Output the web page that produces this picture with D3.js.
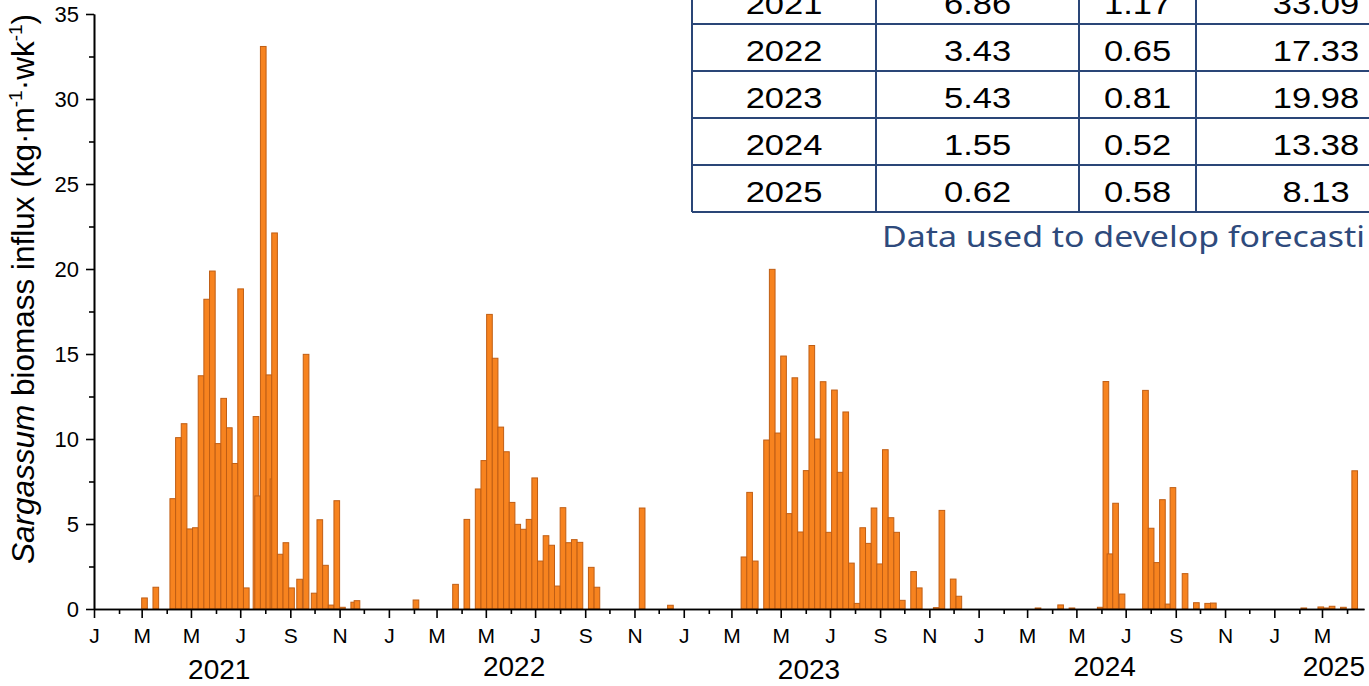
<!DOCTYPE html>
<html><head><meta charset="utf-8">
<script src="https://cdn.jsdelivr.net/npm/d3@7"></script>
<style>
body{margin:0;background:#fff;}
svg{display:block;}
</style></head><body>
<svg id="chart" width="1369" height="686"></svg>
<script>
// ---- DATA (weekly Sargassum biomass influx, kg·m-1·wk-1) ----
const dates2021 = ["2021-03-01","2021-03-15","2021-04-05","2021-04-12","2021-04-19","2021-04-26","2021-05-03","2021-05-10","2021-05-17","2021-05-24","2021-05-31","2021-06-07","2021-06-14","2021-06-21","2021-06-28","2021-07-05","2021-07-17","2021-07-19","2021-07-26","2021-08-02","2021-08-07","2021-08-09","2021-08-16","2021-08-23","2021-08-30","2021-09-09","2021-09-17","2021-09-27","2021-10-04","2021-10-11","2021-10-18","2021-10-25","2021-11-01","2021-11-15","2021-11-19"];
const values2021 = [0.65,1.28,6.49,10.08,10.9,4.71,4.78,13.72,18.22,19.88,9.73,12.39,10.66,8.56,18.83,1.24,11.32,6.65,33.09,13.77,7.65,22.12,3.22,3.9,1.24,1.75,14.98,0.93,5.25,2.57,0.23,6.37,0.1,0.4,0.49];

const dates2022 = ["2022-01-31","2022-03-21","2022-04-04","2022-04-18","2022-04-25","2022-05-02","2022-05-09","2022-05-16","2022-05-23","2022-05-30","2022-06-06","2022-06-13","2022-06-20","2022-06-27","2022-07-04","2022-07-11","2022-07-18","2022-07-25","2022-08-01","2022-08-08","2022-08-15","2022-08-22","2022-09-05","2022-09-12","2022-11-07","2022-12-12"];
const values2022 = [0.53,1.45,5.27,7.06,8.73,17.33,14.75,10.7,9.25,6.27,4.98,4.69,5.27,7.71,2.82,4.31,3.75,1.35,5.96,3.9,4.08,3.92,2.45,1.28,5.94,0.22];

const dates2023 = ["2023-03-13","2023-03-20","2023-03-27","2023-04-10","2023-04-17","2023-04-24","2023-05-01","2023-05-08","2023-05-15","2023-05-22","2023-05-29","2023-06-05","2023-06-12","2023-06-19","2023-06-26","2023-07-03","2023-07-10","2023-07-17","2023-07-24","2023-07-31","2023-08-07","2023-08-14","2023-08-21","2023-08-28","2023-09-04","2023-09-11","2023-09-18","2023-09-25","2023-10-09","2023-10-16","2023-11-06","2023-11-13","2023-11-27","2023-12-04"];
const values2023 = [3.06,6.86,2.82,9.94,19.98,10.35,14.88,5.61,13.6,4.53,8.14,15.5,10.0,13.37,4.51,12.88,8.04,11.59,2.7,0.33,4.78,3.86,5.94,2.65,9.37,5.37,4.51,0.51,2.2,1.24,0.08,5.8,1.76,0.75];

const dates2024 = ["2024-03-11","2024-04-08","2024-04-22","2024-05-27","2024-06-03","2024-06-08","2024-06-15","2024-06-23","2024-07-22","2024-07-29","2024-08-05","2024-08-12","2024-08-19","2024-08-25","2024-09-09","2024-09-23","2024-10-07","2024-10-14"];
const values2024 = [0.06,0.24,0.06,0.1,13.38,3.24,6.22,0.88,12.86,4.75,2.73,6.43,0.29,7.14,2.08,0.37,0.33,0.35];

const dates2025 = ["2025-02-03","2025-02-24","2025-03-03","2025-03-10","2025-03-24","2025-04-07"];
const values2025 = [0.06,0.12,0.06,0.16,0.1,8.13];

const yTickValues = [0,5,10,15,20,25,30,35];
const yearLabels = ["2021","2022","2023","2024","2025"];

const tableYears = ["2021","2022","2023","2024","2025"];
const tableColA = ["6.86","3.43","5.43","1.55","0.62"];
const tableColB = ["1.17","0.65","0.81","0.52","0.58"];
const tableColC = ["33.09","17.33","19.98","13.38","8.13"];
const captionText = "Data used to develop forecasti";

// ---- CHART ----
const svg = d3.select("#chart");
const parse = d3.utcParse("%Y-%m-%d");
const bars = [];
[[dates2021,values2021],[dates2022,values2022],[dates2023,values2023],[dates2024,values2024],[dates2025,values2025]]
  .forEach(([ds,vs]) => ds.forEach((d,i)=>bars.push({date:parse(d), value:vs[i]})));
bars.sort((a,b)=>a.date-b.date);

const x = d3.scaleUtc().domain([parse("2021-01-01"), parse("2025-04-22")]).range([94, 1364]);
const y = d3.scaleLinear().domain([0,35]).range([609,14]);

const fontAx = "'Liberation Sans', Arial, sans-serif";

svg.append("g").selectAll("rect").data(bars).join("rect")
  .attr("x", d=>x(d.date))
  .attr("width", d=>x(d3.utcDay.offset(d.date,7))-x(d.date))
  .attr("y", d=>y(d.value))
  .attr("height", d=>y(0)-y(d.value))
  .attr("fill", "#F7831F")
  .attr("stroke", "#C05E14")
  .attr("stroke-width", 1);

// x axis
const majorMonths = d3.utcMonth.every(2).range(x.domain()[0], x.domain()[1]);
const minorMonths = d3.utcMonth.range(x.domain()[0], x.domain()[1]).filter(d=>d.getUTCMonth()%2===1);
const fmtM = d3.utcFormat("%b");
svg.append("g").attr("transform","translate(0,609)")
  .call(d3.axisBottom(x).tickValues(minorMonths).tickSize(5).tickFormat("").tickSizeOuter(0));
const gx = svg.append("g").attr("transform","translate(0,609)")
  .call(d3.axisBottom(x).tickValues(majorMonths).tickSize(9).tickPadding(10)
        .tickFormat(d=>fmtM(d)[0]).tickSizeOuter(0));
gx.selectAll("text").attr("font-size",21).attr("font-family",fontAx).attr("fill","#000");

// y axis
svg.append("g").attr("transform","translate(94,0)")
  .call(d3.axisLeft(y).tickValues(d3.range(2.5,35,5)).tickSize(5).tickFormat("").tickSizeOuter(0));
const gy = svg.append("g").attr("transform","translate(94,0)")
  .call(d3.axisLeft(y).tickValues(yTickValues).tickSize(8).tickPadding(7).tickSizeOuter(0));
gy.selectAll("text").attr("font-size",22).attr("font-family",fontAx).attr("fill","#000");

svg.selectAll(".domain, .tick line").attr("stroke","#000").attr("stroke-width",1.6);

// year labels
svg.append("g").selectAll("text").data(yearLabels).join("text")
  .attr("x", d=> d==="2025" ? x.range()[1]+1 : x(parse(d+"-06-05")))
  .attr("y", (d,i)=> i%2===0 && d!=="2025" ? 679 : 676)
  .attr("text-anchor", d=> d==="2025" ? "end" : "middle")
  .attr("font-size",28).attr("font-family",fontAx).attr("fill","#000")
  .text(d=>d);

// y title
const yt = svg.append("text")
  .attr("transform","translate(34,289) rotate(-90)")
  .attr("text-anchor","middle")
  .attr("font-size",31.5).attr("font-family",fontAx).attr("fill","#000");
yt.append("tspan").attr("font-style","italic").text("Sargassum");
yt.append("tspan").text(" biomass influx (kg·m");
yt.append("tspan").attr("font-size",19).attr("dy",-12).text("-1");
yt.append("tspan").attr("dy",12).text("·wk");
yt.append("tspan").attr("font-size",19).attr("dy",-12).text("-1");
yt.append("tspan").attr("dy",12).text(")");

// table
const colEdges = [692, 876, 1079, 1196, 1436];
const rowEdges = [-23, 24, 71, 118, 165, 212];
const tbl = svg.append("g");
tbl.append("rect").attr("x",colEdges[0]).attr("y",rowEdges[0])
  .attr("width",colEdges[4]-colEdges[0]).attr("height",rowEdges[5]-rowEdges[0]).attr("fill","#fff");
const cols = [tableYears, tableColA, tableColB, tableColC];
cols.forEach((col,ci)=>{
  tbl.append("g").selectAll("text").data(col).join("text")
    .attr("transform",(d,ri)=>`translate(${(colEdges[ci]+colEdges[ci+1])/2},${(rowEdges[ri]+rowEdges[ri+1])/2 + 13}) scale(1.15,1)`)
    .attr("text-anchor","middle")
    .attr("font-size",30).attr("font-family",fontAx).attr("fill","#000")
    .text(d=>d);
});
tbl.append("g").selectAll("line").data(rowEdges).join("line")
  .attr("x1",colEdges[0]).attr("x2",colEdges[4]).attr("y1",d=>d).attr("y2",d=>d)
  .attr("stroke","#2A4677").attr("stroke-width",2);
tbl.append("g").selectAll("line").data(colEdges).join("line")
  .attr("y1",rowEdges[0]).attr("y2",rowEdges[5]).attr("x1",d=>d).attr("x2",d=>d)
  .attr("stroke","#2A4677").attr("stroke-width",2);

svg.append("text").attr("transform","translate(882,247) scale(1.15,1)")
  .attr("font-size",29.5).attr("font-family","'Noto Sans', 'Open Sans', sans-serif")
  .attr("fill","#2E4A7C").text(captionText);
</script>
</body></html>
